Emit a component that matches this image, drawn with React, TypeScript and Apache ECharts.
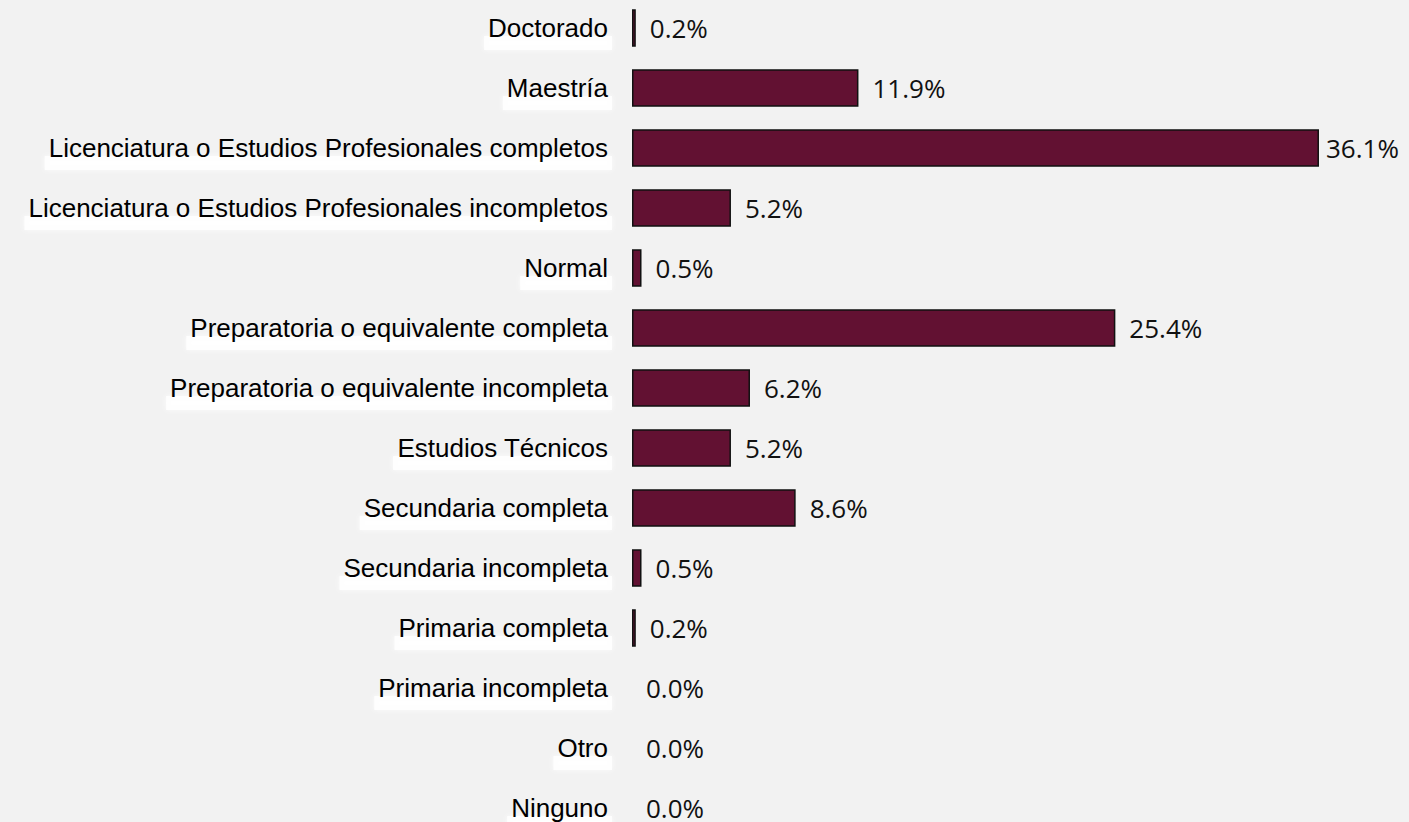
import React, { useEffect, useRef } from "react";
import * as echarts from "echarts";

const categories: string[] = [
  "Doctorado",
  "Maestría",
  "Licenciatura o Estudios Profesionales completos",
  "Licenciatura o Estudios Profesionales incompletos",
  "Normal",
  "Preparatoria o equivalente completa",
  "Preparatoria o equivalente incompleta",
  "Estudios Técnicos",
  "Secundaria completa",
  "Secundaria incompleta",
  "Primaria completa",
  "Primaria incompleta",
  "Otro",
  "Ninguno",
];

const percentages: number[] = [0.2, 11.9, 36.1, 5.2, 0.5, 25.4, 6.2, 5.2, 8.6, 0.5, 0.2, 0.0, 0.0, 0.0];

const CAT_FAMILY = '"Liberation Sans", Arial, sans-serif';

function measure(text: string): number {
  const c = document.createElement("canvas");
  const ctx = c.getContext("2d");
  if (!ctx) return text.length * 12;
  ctx.font = "26px " + CAT_FAMILY;
  return ctx.measureText(text).width;
}

export default function App() {
  const ref = useRef<HTMLDivElement>(null);

  useEffect(() => {
    if (!ref.current) return;
    const chart = echarts.init(ref.current, undefined, { renderer: "svg" });
    const maxVal = Math.max(...percentages);

    const stripRich: Record<string, any> = {};
    categories.forEach((c, i) => {
      stripRich["b" + i] = {
        width: measure(c) + 8,
        height: 14,
        lineHeight: 14,
        fontSize: 8,
        color: "rgba(0,0,0,0)",
        backgroundColor: "rgba(255,255,255,0.85)",
        shadowBlur: 5,
        shadowColor: "rgba(255,255,255,0.9)",
      };
    });

    const baseAxis = {
      type: "category",
      inverse: true,
      data: categories,
      axisLine: { show: false },
      axisTick: { show: false },
      splitLine: { show: false },
    };

    chart.setOption({
      animation: false,
      backgroundColor: "#f2f2f2",
      grid: { left: 632, width: 761.2, top: 0, height: 840, containLabel: false },
      xAxis: {
        type: "value",
        min: 0,
        max: 40,
        show: false,
      },
      yAxis: [
        {
          ...baseAxis,
          axisLabel: {
            margin: 20,
            padding: [30, 0, 0, 0],
            formatter: (v: string) => `{b${categories.indexOf(v)}| }`,
            rich: stripRich,
          },
        },
        {
          ...baseAxis,
          position: "left",
          offset: 0,
          axisLabel: {
            margin: 24,
            fontFamily: CAT_FAMILY,
            fontSize: 26,
            color: "#000",
          },
        },
      ],
      series: [
        {
          type: "bar",
          yAxisIndex: 0,
          barWidth: 37.5,
          data: percentages.map((v) => ({
            value: v,
            itemStyle: v === 0 ? { borderWidth: 0 } : undefined,
            label: v === maxVal ? { distance: 7 } : undefined,
          })),
          itemStyle: {
            color: "#621132",
            borderColor: "#111",
            borderWidth: 1.5,
          },
          label: {
            show: true,
            position: "right",
            distance: 14,
            fontFamily: '"Open Sans", "Noto Sans", sans-serif',
            fontSize: 26,
            color: "#111",
            formatter: (p: any) => Number(p.value).toFixed(1) + "%",
          },
        },
      ],
    });
    return () => chart.dispose();
  }, []);

  return (
    <div
      style={{
        position: "fixed",
        left: 0,
        top: 0,
        width: 1409,
        height: 822,
        overflow: "hidden",
        background: "#f2f2f2",
      }}
    >
      <div ref={ref} style={{ position: "absolute", left: 0, top: -2, width: 1409, height: 840 }} />
    </div>
  );
}
